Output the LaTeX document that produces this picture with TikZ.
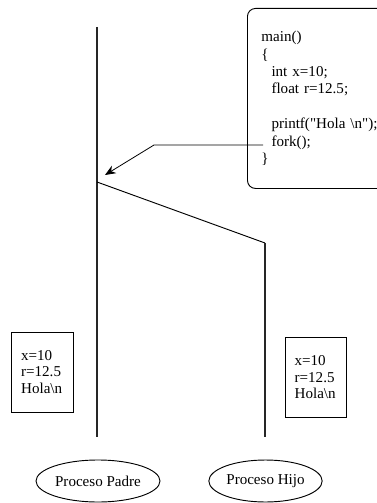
\documentclass[tikz,border=0pt]{standalone}
\usepackage{fontspec}
\setmainfont{Liberation Serif}
\usetikzlibrary{arrows.meta, positioning, shapes.geometric}

\tikzset{
  memory/.style={draw, line width=0.7pt, align=left, text width=32pt,
    inner xsep=7pt, minimum height=60pt, font=\fontsize{11.3}{12.4}\selectfont},
  proc/.style={draw, ellipse, line width=0.7pt, inner sep=0pt,
    minimum height=31.5pt, font=\fontsize{11.3}{13}\selectfont},
  timeline/.style={line width=0.9pt, black!85}
}

\begin{document}
\begin{tikzpicture}[x=0.75pt, y=-0.75pt, >={Stealth[length=8pt, width=6.5pt]}]

\useasboundingbox (0,0) rectangle (377,503);
\clip (0,0) rectangle (377,503);

% Codigo del programa
\node[draw, line width=0.7pt, rounded corners=6pt, anchor=north west,
      align=left, text width=112pt, inner xsep=10.5pt, minimum height=135pt,
      font=\fontsize{11.3}{13.1}\selectfont] (code) at (247,8)
  {main()\\
   \{\\
   \ \ int x=10;\\
   \ \ float r=12.5;\\
   \mbox{}\\
   \ \ printf(\textquotedbl Hola \textbackslash n\textquotedbl);\\
   \ \ fork();\\
   \}};

% Lineas de tiempo de los procesos
\coordinate (padreTop) at (97,27);
\coordinate (padreEnd) at (97,437);
\coordinate (forkPt) at (97,182);
\coordinate (hijoBend) at (265,243);
\coordinate (hijoEnd) at (265,437);

\draw[timeline] (padreTop) -- (padreEnd);
\draw[line width=0.7pt] (forkPt) -- (hijoBend);
\draw[timeline] (hijoBend) -- (hijoEnd);

% Flecha desde fork()
\coordinate (forkLine) at (263,145);
\coordinate (forkKnee) at (154,145);
\coordinate (forkHit) at (105,175);
\draw[->, line width=0.6pt] (forkLine) -- (forkKnee) -- (forkHit);

% Memoria de cada proceso
\node[memory] (memPadre) at (42.5,372) {x=10\\ r=12.5\\ Hola\textbackslash n};
\node[memory] (memHijo) at (316,377.5) {x=10\\ r=12.5\\ Hola\textbackslash n};

% Nombres de los procesos
\node[proc, minimum width=93pt] (padre) at (98,481) {Proceso Padre};
\node[proc, minimum width=85pt] (hijo) at (265.5,481) {Proceso Hijo};

\end{tikzpicture}
\end{document}
